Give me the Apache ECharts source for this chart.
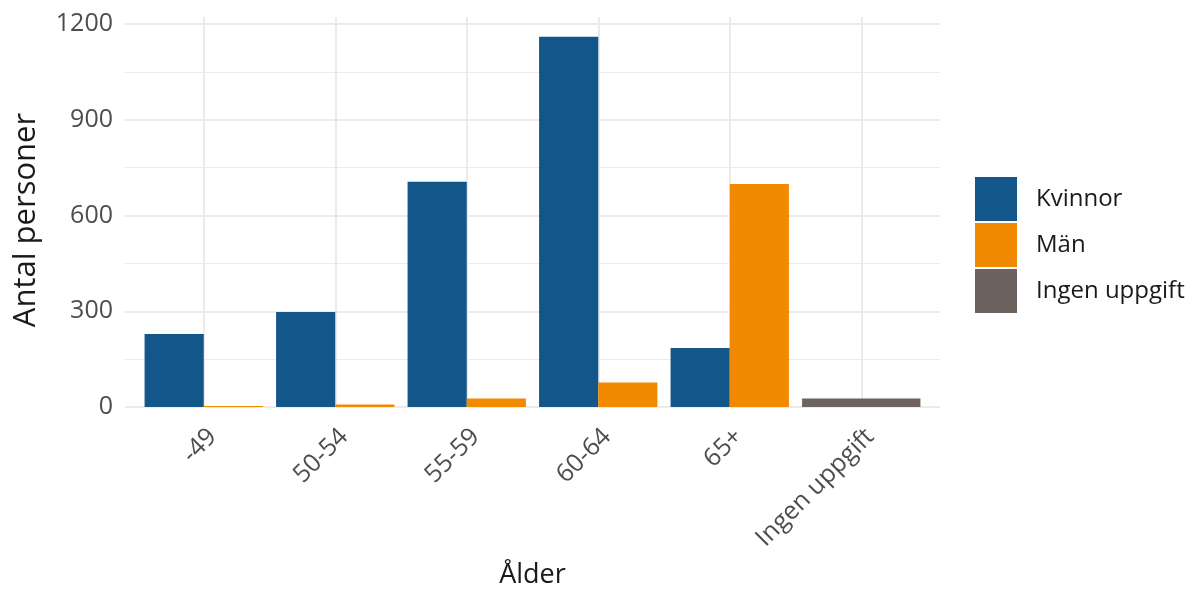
<!DOCTYPE html>
<html>
<head>
<meta charset="utf-8">
<script src="https://cdn.jsdelivr.net/npm/echarts@6/dist/echarts.min.js"></script>
<style>
html,body{margin:0;padding:0;background:#fff;}
#chart{width:1188px;height:594px;}
</style>
</head>
<body>
<div id="chart"></div>
<script>
const categories = ['-49', '50-54', '55-59', '60-64', '65+', 'Ingen uppgift'];
const kvinnor = [229, 298, 706, 1160, 185, null];
const man = [3, 8, 27, 77, 699, null];
const ingen = [null, null, null, null, null, 27];
const yTicks = [0, 300, 600, 900, 1200];

const FONT = 'Open Sans';
const GRID = '#ebebeb';
const TICK = '#4d4d4d';

const chart = echarts.init(document.getElementById('chart'));
chart.setOption({
  animation: false,
  backgroundColor: '#ffffff',
  textStyle: { fontFamily: FONT },
  grid: [
    { left: 125, right: 248, top: 24, bottom: 187 },  // 0: horizontal grid lines + y labels (0..1200)
    { left: 138, right: 261, top: 24, bottom: 187 },  // 1: bars (same value scale)
    { left: 138, right: 261, top: 17, bottom: 168 }   // 2: full panel: vertical grid lines, category labels, titles
  ],
  legend: {
    orient: 'vertical',
    left: 975, top: 177, padding: 0,
    itemWidth: 42, itemHeight: 44, itemGap: 2,
    icon: 'rect',
    data: ['Kvinnor', 'Män', 'Ingen uppgift'],
    textStyle: { fontFamily: FONT, fontSize: 24, color: '#1a1a1a', padding: [0, 0, 0, 14] },
    selectedMode: false
  },
  xAxis: [
    { gridIndex: 0, type: 'value', min: 0, max: 1, show: false },
    { gridIndex: 1, type: 'category', data: categories, show: false },
    { gridIndex: 1, type: 'category', data: categories, show: false },
    {
      gridIndex: 2, type: 'category', data: categories,
      axisLine: { show: false }, axisTick: { show: false }, splitLine: { show: false },
      axisLabel: { rotate: 45, fontSize: 25, color: TICK, margin: 18, fontFamily: FONT, verticalAlign: 'top' },
      name: 'Ålder', nameLocation: 'middle', nameGap: 150,
      nameTextStyle: { fontSize: 27, color: '#1a1a1a', fontFamily: FONT, padding: [6, 0, 0, 0] }
    }
  ],
  yAxis: [
    {
      gridIndex: 0, type: 'value', min: 0, max: 1200, interval: 300,
      axisLine: { show: false }, axisTick: { show: false },
      axisLabel: { fontSize: 25, color: TICK, margin: 12, fontFamily: FONT,
        formatter: v => (yTicks.indexOf(v) >= 0 ? String(v) : '') },
      splitLine: { show: true, lineStyle: { color: GRID, width: 2 } },
      minorTick: { show: false, splitNumber: 2 },
      minorSplitLine: { show: true, lineStyle: { color: GRID, width: 1.2 } }
    },
    {
      gridIndex: 1, type: 'value', min: 0, max: 1200, interval: 300,
      axisLine: { show: false }, axisTick: { show: false },
      axisLabel: { show: false }, splitLine: { show: false }
    },
    {
      gridIndex: 2, type: 'value', min: 0, max: 1,
      axisLine: { show: false }, axisTick: { show: false },
      axisLabel: { show: false }, splitLine: { show: false },
      name: 'Antal personer', nameLocation: 'middle', nameGap: 96,
      nameTextStyle: { fontSize: 31, color: '#1a1a1a', fontFamily: FONT, padding: [0, 17, 0, 0] }
    }
  ],
  series: [
    {
      name: 'grid-v', type: 'line', xAxisIndex: 3, yAxisIndex: 2, data: [], z: 1, silent: true,
      markLine: {
        z: 1, silent: true, symbol: ['none', 'none'], label: { show: false },
        lineStyle: { color: GRID, width: 2, type: 'solid' },
        emphasis: { disabled: true },
        data: categories.map(c => ({ xAxis: c }))
      }
    },
    {
      name: 'Kvinnor', type: 'bar', xAxisIndex: 1, yAxisIndex: 1, data: kvinnor,
      barGap: '0%', barCategoryGap: '10%', z: 3,
      itemStyle: { color: '#13568a' }
    },
    {
      name: 'Män', type: 'bar', xAxisIndex: 1, yAxisIndex: 1, data: man,
      barGap: '0%', barCategoryGap: '10%', z: 3,
      itemStyle: { color: '#f18a00' }
    },
    {
      name: 'Ingen uppgift', type: 'bar', xAxisIndex: 2, yAxisIndex: 1, data: ingen,
      barCategoryGap: '10%', z: 3,
      itemStyle: { color: '#6d625e' }
    }
  ]
});
</script>
</body>
</html>
